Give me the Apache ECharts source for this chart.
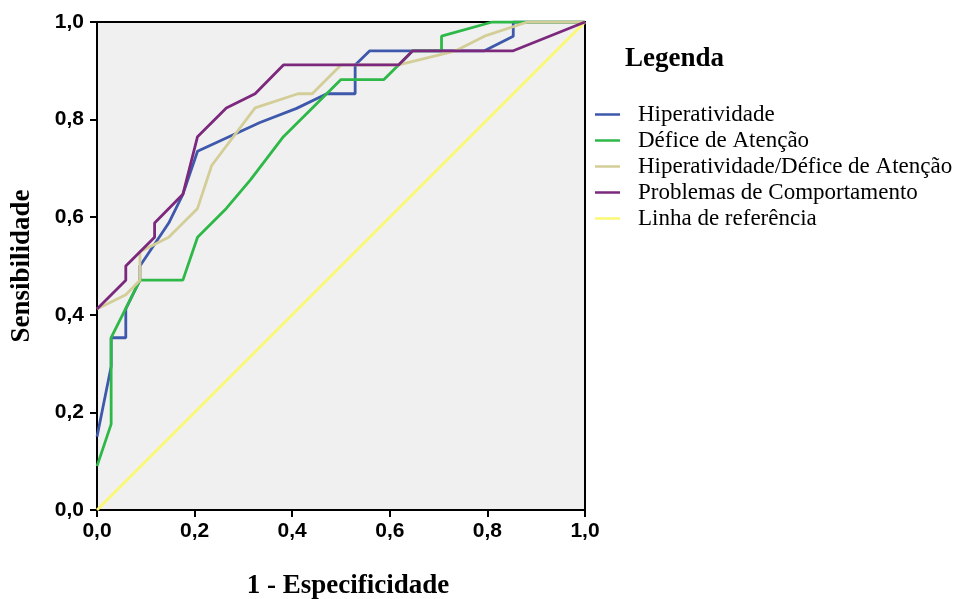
<!DOCTYPE html>
<html>
<head>
<meta charset="utf-8">
<script src="https://cdn.jsdelivr.net/npm/echarts@6/dist/echarts.min.js"></script>
<style>
  html, body { margin: 0; padding: 0; background: #fff; }
  #chart { width: 953px; height: 599px; }
</style>
</head>
<body>
<div id="chart"></div>
<script>
(function () {
  // ROC curves: [1 - especificidade, sensibilidade]
  var seriesNames = ['Hiperatividade', 'Défice de Atenção', 'Hiperatividade/Défice de Atenção', 'Problemas de Comportamento', 'Linha de referência'];
  var colors = ['#3e58ac', '#2eb848', '#d3ce97', '#7c287d', '#fbf873'];

  var hiper = [[0, 0.15], [0.029, 0.294], [0.029, 0.353], [0.059, 0.353], [0.059, 0.412], [0.088, 0.471], [0.088, 0.5],
    [0.147, 0.588], [0.176, 0.647], [0.206, 0.735], [0.334, 0.794], [0.409, 0.823], [0.471, 0.853], [0.529, 0.853],
    [0.529, 0.912], [0.559, 0.941], [0.794, 0.941], [0.853, 0.971], [0.853, 1], [1, 1]];
  var defice = [[0, 0.09], [0.029, 0.176], [0.029, 0.353], [0.088, 0.471], [0.176, 0.471], [0.206, 0.559], [0.265, 0.618],
    [0.314, 0.676], [0.382, 0.765], [0.5, 0.882], [0.588, 0.882], [0.618, 0.912], [0.647, 0.941], [0.706, 0.941],
    [0.706, 0.971], [0.81, 1], [1, 1]];
  var hiperDefice = [[0, 0.412], [0.059, 0.441], [0.088, 0.471], [0.088, 0.529], [0.147, 0.559], [0.206, 0.618],
    [0.235, 0.706], [0.324, 0.824], [0.412, 0.853], [0.441, 0.853], [0.5, 0.912], [0.618, 0.912], [0.735, 0.941],
    [0.794, 0.971], [0.882, 1], [1, 1]];
  var comport = [[0, 0.412], [0.059, 0.471], [0.059, 0.5], [0.118, 0.559], [0.118, 0.588], [0.176, 0.647], [0.206, 0.765],
    [0.265, 0.824], [0.324, 0.853], [0.382, 0.912], [0.618, 0.912], [0.647, 0.941], [0.853, 0.941], [1, 1]];
  var referencia = [[0, 0], [1, 1]];

  var curves = [hiper, defice, hiperDefice, comport];

  var chart = echarts.init(document.getElementById('chart'), null, { renderer: 'canvas' });

  var fmt = function (v) { return v.toFixed(1).replace('.', ','); };
  var axisCommon = {
    type: 'value', min: 0, max: 1, interval: 0.2,
    nameLocation: 'middle',
    nameTextStyle: { color: '#000', fontFamily: 'Liberation Serif', fontWeight: 'bold', fontSize: 27 },
    axisLine: { show: true, lineStyle: { color: '#000', width: 2 } },
    axisTick: { show: true, inside: false, length: 7, lineStyle: { color: '#000', width: 2 } },
    axisLabel: { color: '#000', fontFamily: 'Liberation Sans', fontWeight: 'bold', fontSize: 21, formatter: fmt },
    splitLine: { show: false }
  };

  var series = [{
    name: seriesNames[4], type: 'line', data: referencia,
    symbol: 'none', lineStyle: { color: colors[4], width: 2.8 }, itemStyle: { color: colors[4] }, z: 1
  }];
  curves.forEach(function (d, i) {
    series.push({
      name: seriesNames[i], type: 'line', data: d,
      symbol: 'none', lineStyle: { color: colors[i], width: 2.8 }, itemStyle: { color: colors[i] }, z: 2 + i
    });
  });

  chart.setOption({
    animation: false,
    title: {
      text: 'Legenda', left: 625, top: 46, padding: 0,
      textStyle: { color: '#000', fontFamily: 'Liberation Serif', fontWeight: 'bold', fontSize: 27 }
    },
    legend: {
      data: seriesNames,
      orient: 'vertical', left: 590, top: 98,
      icon: 'rect', itemWidth: 25, itemHeight: 2.5, itemGap: 3,
      selectedMode: false,
      textStyle: { color: '#000', fontFamily: 'Liberation Serif', fontSize: 23, lineHeight: 22, padding: [0, 0, 0, 13] }
    },
    grid: {
      left: 97, top: 22, width: 488, height: 488,
      outerBoundsMode: 'none', containLabel: false,
      show: true, backgroundColor: '#f0f0f0', borderColor: '#000', borderWidth: 2
    },
    xAxis: Object.assign({}, axisCommon, {
      name: '1 - Especificidade', nameGap: 63,
      nameTextStyle: Object.assign({}, axisCommon.nameTextStyle, { padding: [0, 0, 0, 14] }),
      axisLabel: Object.assign({}, axisCommon.axisLabel, { margin: 11 })
    }),
    yAxis: Object.assign({}, axisCommon, {
      name: 'Sensibilidade', nameGap: 61,
      axisLabel: Object.assign({}, axisCommon.axisLabel, { margin: 13 })
    }),
    series: series
  });
})();
</script>
</body>
</html>
